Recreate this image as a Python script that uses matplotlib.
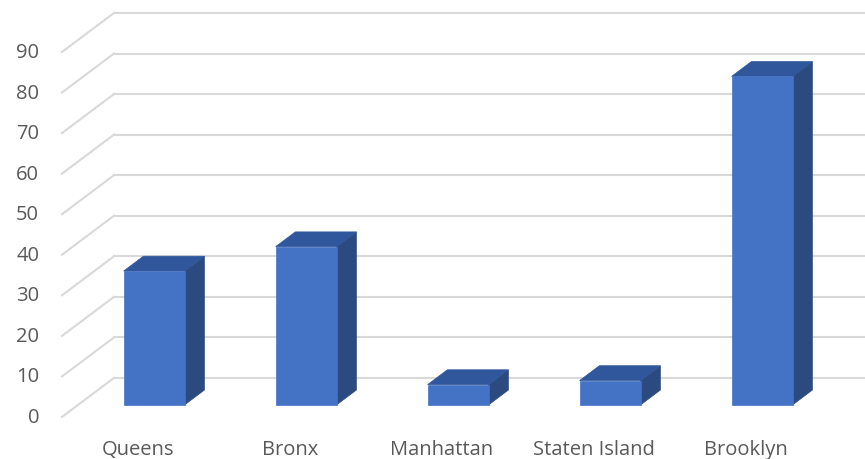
import matplotlib.pyplot as plt
from matplotlib.patches import Polygon

boroughs = ['Queens', 'Bronx', 'Manhattan', 'Staten Island', 'Brooklyn']
counts = [33, 39, 5, 6, 81]
yticks = list(range(0, 100, 10))

# oblique projection: how far the back wall sits from the front plane
DEPTH_X = 0.342   # category units
DEPTH_Y = 9.62    # value units
BAR_HALF = 0.2007
BAR_F0, BAR_F1 = 0.31, 0.69   # bar front/back as fraction of the depth

FRONT = '#4472C4'
SIDE = '#2B4A80'
TOP = '#30579B'
GRID = '#D9D9D9'
TEXT = '#595959'

plt.rcParams['font.family'] = ['Open Sans', 'DejaVu Sans']

fig = plt.figure(figsize=(8.65, 4.6), dpi=100)
ax = fig.add_axes([0, 0, 1, 1])
ax.set_xlim(-0.9079, 4.783)
ax.set_ylim(-10.36, 103.06)
ax.axis('off')

n = len(boroughs)
x_left = -0.5
x_right = n - 0.5

# gridlines: diagonal on the left side wall, horizontal on the back wall
for v in yticks:
    ax.plot([x_left, x_left + DEPTH_X], [v, v + DEPTH_Y], color=GRID, lw=1.5, zorder=1)
    ax.plot([x_left + DEPTH_X, x_right + DEPTH_X], [v + DEPTH_Y, v + DEPTH_Y],
            color=GRID, lw=1.5, zorder=1)
    ax.text(x_left - 0.15, v, str(v), ha='right', va='center', fontsize=14.5, color=TEXT)


def shift(x, y, f):
    return (x + f * DEPTH_X, y + f * DEPTH_Y)


for i, (name, val) in enumerate(zip(boroughs, counts)):
    l, r = i - BAR_HALF, i + BAR_HALF
    front = [shift(l, 0, BAR_F0), shift(r, 0, BAR_F0),
             shift(r, val, BAR_F0), shift(l, val, BAR_F0)]
    side = [shift(r, 0, BAR_F0), shift(r, 0, BAR_F1),
            shift(r, val, BAR_F1), shift(r, val, BAR_F0)]
    top = [shift(l, val, BAR_F0), shift(r, val, BAR_F0),
           shift(r, val, BAR_F1), shift(l, val, BAR_F1)]
    ax.add_patch(Polygon(side, closed=True, facecolor=SIDE, edgecolor=SIDE, lw=0.5, zorder=3))
    ax.add_patch(Polygon(top, closed=True, facecolor=TOP, edgecolor=TOP, lw=0.5, zorder=3))
    ax.add_patch(Polygon(front, closed=True, facecolor=FRONT, edgecolor=FRONT, lw=0.5, zorder=4))
    ax.text(i, -7.9, name, ha='center', va='center', fontsize=14.5, color=TEXT)

fig.savefig('out.png', dpi=100)
